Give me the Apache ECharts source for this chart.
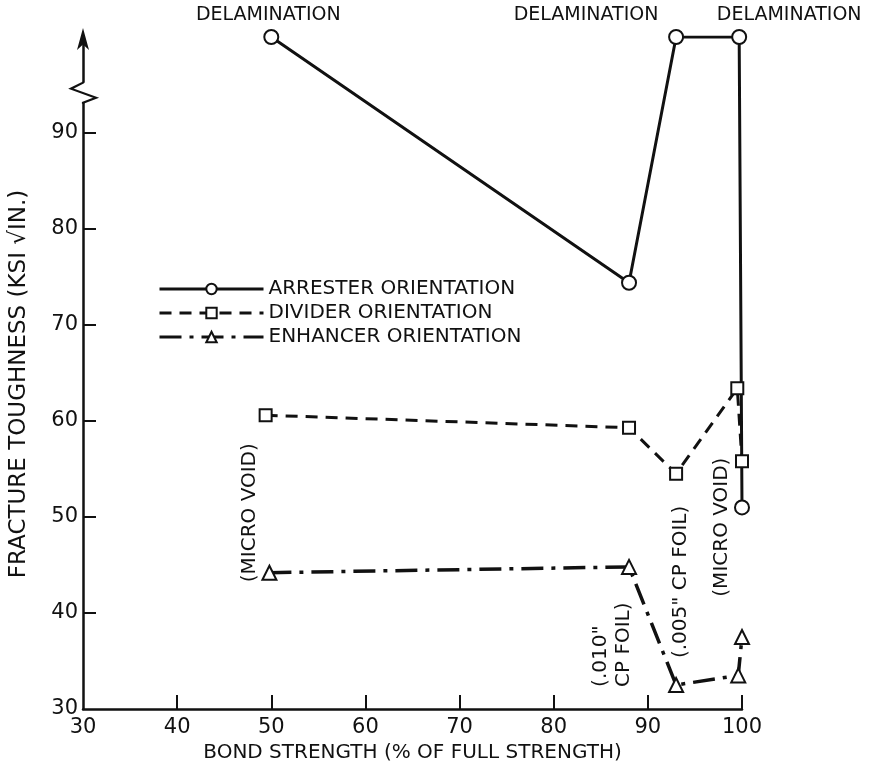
<!DOCTYPE html>
<html><head><meta charset="utf-8">
<script src="https://cdn.jsdelivr.net/npm/echarts@6/dist/echarts.min.js"></script>
<style>html,body{margin:0;padding:0;background:#fff}#c{width:869px;height:771px}</style>
</head><body><div id="c"></div>
<script>
// ---- data ----
const xTicks = [30, 40, 50, 60, 70, 80, 90, 100];
const yTicks = [30, 40, 50, 60, 70, 80, 90];
const seriesNames = ['ARRESTER ORIENTATION', 'DIVIDER ORIENTATION', 'ENHANCER ORIENTATION'];
const arresterX = [50, 88, 93, 99.7, 100];
const arresterY = [100, 74.4, 100, 100, 51.0];
const dividerX = [49.4, 88, 93, 99.5, 100];
const dividerY = [60.6, 59.3, 54.5, 63.4, 55.8];
const enhancerX = [49.8, 88, 93, 99.6, 100];
const enhancerY = [44.2, 44.8, 32.5, 33.5, 37.5];
const delamText = 'DELAMINATION';
const delamIndex = [0, 2, 3];
const noteTexts = ['(MICRO VOID)', '(.010"\nCP FOIL)', '(.005" CP FOIL)', '(MICRO VOID)'];
const noteX = [47.7, 86.25, 93.45, 97.9];
const noteY = [43.2, 32.3, 35.3, 41.7];
const xTitle = 'BOND STRENGTH (% OF FULL STRENGTH)';
const yTitle = 'FRACTURE TOUGHNESS (KSI \u221AIN.)';
const yBreakValue = 94.2;

// ---- styles ----
const INK = '#111';
const FONT = 'DejaVu Sans';
const delamOffsets = [[-3, 0], [-90, 0], [50, 0]];

function pairs(xs, ys) { return xs.map((x, i) => [x, ys[i]]); }

const arresterData = pairs(arresterX, arresterY).map((p, i) => {
  const k = delamIndex.indexOf(i);
  if (k < 0) return p;
  return {
    value: p,
    label: {
      show: true, position: 'top', distance: 4, formatter: delamText,
      offset: delamOffsets[k], color: INK, fontSize: 19, fontFamily: FONT
    }
  };
});

const chart = echarts.init(document.getElementById('c'), null, { renderer: 'canvas' });
chart.setOption({
  animation: false,
  backgroundColor: '#fff',
  grid: { left: 81, right: 127, top: 37, bottom: 62, containLabel: false },
  legend: {
    orient: 'vertical', left: 153, top: 274, itemWidth: 104, itemHeight: 13, itemGap: 4,
    lineStyle: { width: 3 },
    textStyle: { fontSize: 20, color: INK, fontFamily: FONT },
    data: seriesNames
  },
  xAxis: {
    type: 'value', min: 30, max: 100, interval: 10,
    name: xTitle, nameLocation: 'middle', nameGap: 33,
    nameTextStyle: { fontSize: 20, color: INK, fontFamily: FONT },
    axisLine: { lineStyle: { color: INK, width: 2.5 } },
    axisTick: { show: true, inside: true, length: 14, lineStyle: { color: INK, width: 2 }, customValues: xTicks.slice(1) },
    axisLabel: { fontSize: 21, color: INK, fontFamily: FONT, margin: 8, customValues: xTicks },
    splitLine: { show: false }
  },
  yAxis: {
    type: 'value', min: 30, max: 100, interval: 10,
    name: yTitle, nameLocation: 'middle', nameGap: 52,
    nameTextStyle: { fontSize: 23, color: INK, fontFamily: FONT, padding: [0, 22, 0, 0] },
    axisLine: { lineStyle: { color: INK, width: 2.5 }, symbol: ['none', 'arrow'], symbolSize: [9, 22], symbolOffset: [0, 9] },
    axisTick: { show: true, inside: true, length: 13, lineStyle: { color: INK, width: 2 }, customValues: yTicks.slice(1) },
    axisLabel: { fontSize: 21, color: INK, fontFamily: FONT, margin: 5, customValues: yTicks },
    splitLine: { show: false }
  },
  series: [
    {
      name: seriesNames[0], type: 'line', data: arresterData,
      symbol: 'emptyCircle', symbolSize: 14,
      lineStyle: { color: INK, width: 3 },
      itemStyle: { color: INK, borderWidth: 1.8 }, z: 3
    },
    {
      name: seriesNames[1], type: 'line', data: pairs(dividerX, dividerY),
      symbol: 'emptyRect', symbolSize: 12,
      lineStyle: { color: INK, width: 3, type: [12, 8] },
      itemStyle: { color: INK, borderWidth: 1.8 }, z: 4
    },
    {
      name: seriesNames[2], type: 'line', data: pairs(enhancerX, enhancerY),
      symbol: 'emptyTriangle', symbolSize: 14,
      lineStyle: { color: INK, width: 3.5, type: [22, 8, 4, 8] },
      itemStyle: { color: INK, borderWidth: 1.8 }, z: 4
    }
  ]
});

function place() {
  const g = [];
  noteTexts.forEach((t, i) => {
    const p = chart.convertToPixel({ gridIndex: 0 }, [noteX[i], noteY[i]]);
    g.push({
      type: 'text', x: p[0], y: p[1], rotation: Math.PI / 2, z: 10,
      style: { text: t, fill: INK, fontSize: 20, fontFamily: FONT, align: 'left', verticalAlign: 'middle', lineHeight: 23 }
    });
  });
  const b = chart.convertToPixel({ gridIndex: 0 }, [30, yBreakValue]);
  g.push({ type: 'rect', shape: { x: b[0] - 3, y: b[1] - 10, width: 6, height: 20 }, style: { fill: '#fff' }, z: 20 });
  g.push({
    type: 'polyline', z: 21,
    shape: { points: [[b[0], b[1] - 11], [b[0], b[1] - 10], [b[0] - 12, b[1] - 4], [b[0] + 13, b[1] + 5], [b[0], b[1] + 10], [b[0], b[1] + 11]] },
    style: { stroke: INK, lineWidth: 2.2, fill: null }
  });
  chart.setOption({ graphic: g });
}
place();
</script>
</body></html>
